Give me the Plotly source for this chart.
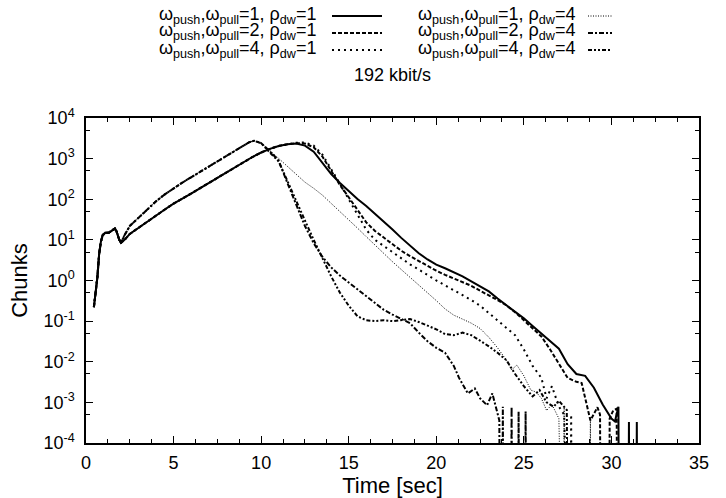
import plotly.graph_objects as go

# ---------------- data (Chunks vs time [sec]) ----------------
Z = 1e-9  # zero count (falls below the log axis, drawn as a drop to the bottom)

# common start-up phase (all six configurations)
T_START = [0.45, 0.55, 0.65, 0.75, 0.85, 0.95, 1.1, 1.3, 1.5, 1.65, 1.75, 1.9, 2.0]
V_START = [0.22, 0.5, 1.2, 4.5, 9, 13, 15, 15, 17, 19, 16, 10, 8.5]

# rho_dw = 1 growth phase
T_RISE_A = [2.2, 2.5, 3.0, 3.5, 4.0, 4.5, 5.0, 5.5, 6.0, 6.5, 7.0, 7.5, 8.0, 8.5, 9.0,
            9.5, 10.0, 10.5, 11.0, 11.5]
V_RISE_A = [10, 14, 20, 28, 40, 56, 78, 102, 138, 186, 251, 339, 457, 617, 832,
            1096, 1413, 1738, 2042, 2265]

# rho_dw = 4 growth phase
T_RISE_B = [2.2, 2.5, 3.0, 3.5, 4.0, 4.5, 5.0, 5.5, 6.0, 6.5, 7.0, 7.5, 8.0, 8.5, 9.0,
            9.3, 9.6, 10.0]
V_RISE_B = [13, 22, 35, 57, 89, 132, 186, 257, 347, 468, 631, 871, 1175, 1585, 2089,
            2512, 2754, 2400]

# w=1, rho=1 (solid)
T_W1_R1 = [12.0, 12.5, 13.0, 13.5, 14.0, 14.5, 15.0, 15.5, 16.0, 16.5, 17.0, 17.5, 18.0,
           18.5, 19.0, 19.5, 20.0, 20.5, 21.0, 21.5, 22.0, 22.5, 23.0, 23.5, 24.0, 24.5,
           25.0, 25.5, 26.0, 26.5, 27.0, 27.5, 28.0, 28.5, 29.0, 29.5, 30.0, 30.2, 30.4,
           30.45, 30.95, 31.0, 31.05, 31.4, 31.45, 31.5]
V_W1_R1 = [2344, 2090, 1480, 794, 417, 251, 158, 102, 68, 44, 28, 18, 11.2,
           7.2, 4.7, 3.3, 2.45, 2.0, 1.62, 1.26, 0.95, 0.72, 0.54, 0.36, 0.25, 0.17,
           0.117, 0.076, 0.050, 0.033, 0.021, 0.0087, 0.0050, 0.0045, 0.0023, 0.00089,
           0.0004, 0.00034, 0.00078, Z, Z, 0.00033, Z, Z, 0.00033, Z]

# w=2, rho=1 (dashed)
T_W2_R1 = [12.0, 12.5, 13.0, 13.5, 14.0, 14.5, 15.0, 15.5, 16.0, 16.5, 17.0, 17.5, 18.0,
           18.5, 19.0, 19.5, 20.0, 20.5, 21.0, 21.5, 22.0, 22.5, 23.0, 23.5, 24.0, 24.5,
           25.0, 25.5, 26.0, 26.5, 27.0, 27.5, 28.0, 28.3, 28.8, 29.2, 29.35, 29.4,
           29.85, 29.9, 30.1, 30.3, 30.35]
V_W2_R1 = [2400, 2344, 1905, 1122, 501, 224, 112, 55, 27, 16.6, 11.5, 7.9, 5.4,
           4.0, 3.0, 2.3, 1.74, 1.38, 1.12, 0.93, 0.74, 0.56, 0.44, 0.33, 0.245, 0.166,
           0.105, 0.066, 0.042, 0.020, 0.0089, 0.0040, 0.0032, 0.0030, 0.00036, 0.00076,
           0.0005, Z, Z, 0.0004, 0.00063, 0.0007, Z]

# w=4, rho=1 (thick dotted)
T_W4_R1 = [12.0, 12.5, 13.0, 13.5, 14.0, 14.5, 15.0, 15.5, 16.0, 16.5, 17.0, 17.5, 18.0,
           18.5, 19.0, 19.5, 20.0, 20.5, 21.0, 21.5, 22.0, 22.5, 23.0, 23.5, 24.0, 24.5,
           25.0, 25.5, 26.0, 26.3, 26.6, 27.0, 27.3, 27.35, 27.65, 27.7, 27.75]
V_W4_R1 = [2455, 2512, 2089, 1259, 562, 240, 100, 42, 17.8, 10, 7.1, 5.0, 3.5,
           2.5, 1.86, 1.35, 1.0, 0.76, 0.575, 0.44, 0.33, 0.24, 0.158, 0.105, 0.072, 0.045,
           0.020, 0.0079, 0.0040, 0.00126, 0.0025, 0.00079, 0.0005, Z, Z, 0.0005, Z]

# w=1, rho=4 (fine dotted)
T_W1_R4 = [10.5, 11.0, 11.5, 12.0, 12.5, 13.0, 13.5, 14.0, 14.5, 15.0, 15.5, 16.0, 16.5,
           17.0, 17.5, 18.0, 18.5, 19.0, 19.5, 20.0, 20.5, 21.0, 21.5, 22.0, 22.5, 23.0,
           23.5, 24.0, 24.3, 24.6, 25.0, 25.4, 25.7, 26.0, 26.3, 26.6, 27.0, 27.15,
           27.25, 27.3, 27.35, 28.7, 28.8, 28.85]
V_W1_R4 = [1585, 1000, 631, 398, 263, 186, 126, 79, 50, 32, 19.5, 12, 7.4,
           4.6, 2.9, 1.86, 1.2, 0.79, 0.50, 0.32, 0.20, 0.14, 0.112, 0.089, 0.066, 0.040,
           0.022, 0.011, 0.0063, 0.0083, 0.0045, 0.0020, 0.0018, 0.00126, 0.00063, 0.00089,
           0.0004, Z, Z, 0.0008, Z, Z, 0.0004, Z]

# w=2, rho=4 (dash-dot)
T_W2_R4 = [10.5, 11.0, 11.5, 12.0, 12.5, 13.0, 13.5, 14.0, 14.5, 15.0, 15.5, 16.0, 16.5,
           17.0, 17.5, 18.0, 18.5, 19.0, 19.5, 20.0, 20.5, 21.0, 21.3, 21.8, 22.2, 22.5,
           22.9, 23.2, 23.6, 23.65, 23.75, 23.8, 23.85, 24.25, 24.3, 24.35, 24.65, 24.7,
           24.75, 25.05, 25.1, 25.15]
V_W2_R4 = [1514, 891, 251, 71, 22, 8.3, 3.8, 2.1, 1.32, 0.89, 0.60, 0.42, 0.28,
           0.19, 0.145, 0.112, 0.089, 0.052, 0.032, 0.022, 0.0166, 0.0079, 0.0040, 0.00166,
           0.0022, 0.00126, 0.00085, 0.00166, 0.00036, Z, Z, 0.00078, Z, Z, 0.00078, Z, Z,
           0.0006, Z, Z, 0.0006, Z]

# w=4, rho=4 (dash-dot-dot)
T_W4_R4 = [10.5, 11.0, 11.5, 12.0, 12.5, 13.0, 13.5, 14.0, 14.5, 15.0, 15.5, 16.0, 16.5,
           17.0, 17.5, 18.0, 18.5, 19.0, 19.5, 20.0, 20.5, 21.0, 21.5, 22.0, 22.5, 23.0,
           23.5, 24.0, 24.5, 25.0, 25.5, 25.9, 26.3, 26.7, 27.0, 27.45, 27.55]
V_W4_R4 = [1413, 851, 282, 89, 30, 10, 3.5, 1.26, 0.50, 0.24, 0.132, 0.105, 0.1,
           0.105, 0.1, 0.107, 0.112, 0.095, 0.079, 0.063, 0.048, 0.045, 0.052, 0.045, 0.033,
           0.024, 0.0166, 0.011, 0.005, 0.0025, 0.0014, 0.002, 0.001, 0.00078, 0.0011,
           0.00065, Z]

LABELS = ["ω<sub>push</sub>,ω<sub>pull</sub>=1, ρ<sub>dw</sub>=1",
          "ω<sub>push</sub>,ω<sub>pull</sub>=2, ρ<sub>dw</sub>=1",
          "ω<sub>push</sub>,ω<sub>pull</sub>=4, ρ<sub>dw</sub>=1",
          "ω<sub>push</sub>,ω<sub>pull</sub>=1, ρ<sub>dw</sub>=4",
          "ω<sub>push</sub>,ω<sub>pull</sub>=2, ρ<sub>dw</sub>=4",
          "ω<sub>push</sub>,ω<sub>pull</sub>=4, ρ<sub>dw</sub>=4"]
TITLE = "192 kbit/s"
X_TICKS = [0, 5, 10, 15, 20, 25, 30, 35]
Y_TICKS = [1e-4, 1e-3, 1e-2, 1e-1, 1e0, 1e1, 1e2, 1e3, 1e4]
Y_TICKTEXT = ["10<sup>-4</sup>", "10<sup>-3</sup>", "10<sup>-2</sup>", "10<sup>-1</sup>",
              "10<sup>0</sup>", "10<sup>1</sup>", "10<sup>2</sup>", "10<sup>3</sup>",
              "10<sup>4</sup>"]
Y_MINOR = [5e-4, 5e-3, 5e-2, 5e-1, 5e0, 5e1, 5e2, 5e3]

# ---------------- figure ----------------
W, H = 726, 498
L, R, T, B = 86, 27, 118, 55
PW, PH = W - L - R, H - T - B
FONT = "Liberation Sans, Arial, Helvetica, sans-serif"

series = [
    (T_START + T_RISE_A + T_W1_R1, V_START + V_RISE_A + V_W1_R1, dict(width=2, dash="solid")),
    (T_START + T_RISE_A + T_W2_R1, V_START + V_RISE_A + V_W2_R1, dict(width=2, dash="4px,2px")),
    (T_START + T_RISE_A + T_W4_R1, V_START + V_RISE_A + V_W4_R1, dict(width=2, dash="2px,4px")),
    (T_START + T_RISE_B + T_W1_R4, V_START + V_RISE_B + V_W1_R4, dict(width=1, dash="1px,1.5px")),
    (T_START + T_RISE_B + T_W2_R4, V_START + V_RISE_B + V_W2_R4, dict(width=2, dash="5px,2px,2px,2px")),
    (T_START + T_RISE_B + T_W4_R4, V_START + V_RISE_B + V_W4_R4, dict(width=2, dash="4px,2px,2px,2px,2px,2px")),
]

fig = go.Figure()
for (xs, ys, ln), lab in zip(series, LABELS):
    fig.add_trace(go.Scatter(x=xs, y=ys, mode="lines", name=lab, showlegend=False,
                             line=dict(color="black", **ln)))


def px(xp):
    return (xp - L) / PW


def py(yp):
    return (H - B - yp) / PH


# gnuplot-style key: text right-aligned, line sample to its right
rows_y = [16, 33, 50]
cols = [(318, 332, 382), (577, 588, 612)]
for i, lab in enumerate(LABELS):
    c = cols[i // 3]
    yy = rows_y[i % 3]
    fig.add_annotation(x=px(c[0]), y=py(yy - 1), xref="paper", yref="paper", text=lab,
                       showarrow=False, xanchor="right", yanchor="middle",
                       font=dict(family=FONT, size=18, color="black"))
    ln = series[i][2]
    fig.add_shape(type="line", xref="paper", yref="paper", x0=px(c[1]), x1=px(c[2]),
                  y0=py(yy), y1=py(yy), line=dict(color="black", **ln))

fig.update_layout(
    width=W, height=H,
    margin=dict(l=L, r=R, t=T, b=B, autoexpand=False),
    paper_bgcolor="white", plot_bgcolor="white",
    font=dict(family=FONT, size=18, color="black"),
    title=dict(text=TITLE, x=(L + PW / 2) / W, xanchor="center", y=1 - 75 / H,
               yanchor="middle", yref="container", font=dict(size=18)),
)
fig.update_xaxes(range=[0, 35], tickvals=X_TICKS, ticks="inside", ticklen=7, tickwidth=1,
                 tickcolor="black", showline=True, linecolor="black", linewidth=1.5,
                 mirror="ticks", showgrid=False, zeroline=False, ticklabelstandoff=3,
                 automargin=False,
                 minor=dict(dtick=1.25, ticks="inside", ticklen=4, tickcolor="black"),
                 title=dict(text="Time [sec]", standoff=4))
fig.update_yaxes(type="log", range=[-4, 4], tickvals=Y_TICKS, ticktext=Y_TICKTEXT,
                 ticks="inside", ticklen=7, tickwidth=1, tickcolor="black",
                 showline=True, linecolor="black", linewidth=1.5, mirror="ticks",
                 showgrid=False, zeroline=False, ticklabelstandoff=6, automargin=False,
                 minor=dict(tickvals=Y_MINOR, ticks="inside", ticklen=4, tickcolor="black"),
                 title=dict(text="Chunks", standoff=10))

fig.write_html("out.html")
